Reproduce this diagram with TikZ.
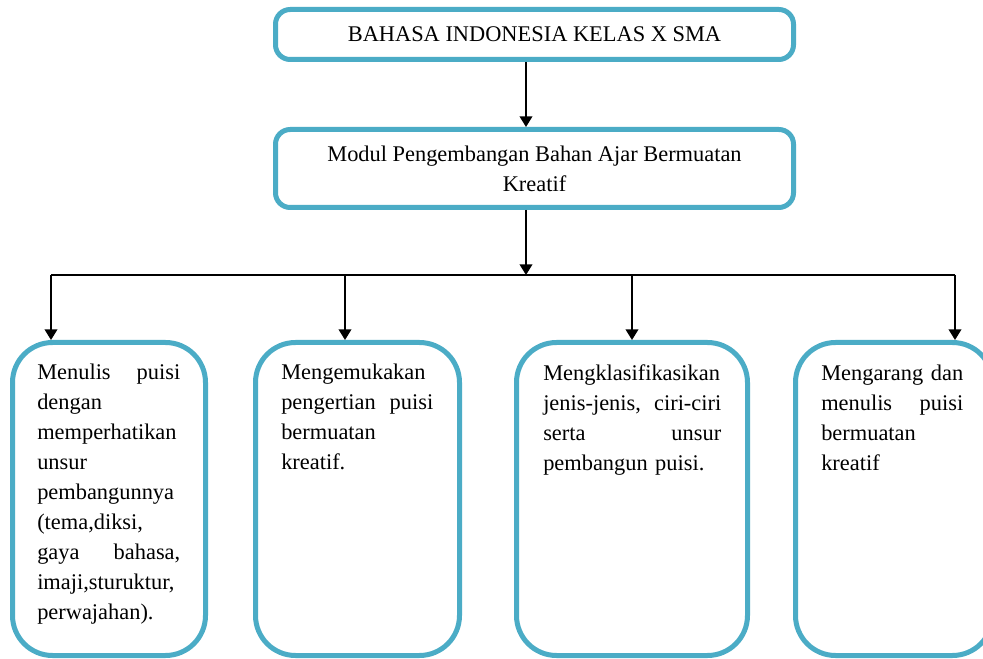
\documentclass[tikz,border=0pt]{standalone}
\usepackage{fontspec}
\setmainfont{Liberation Serif}
\usetikzlibrary{arrows.meta}
\definecolor{boxblue}{RGB}{75,172,198}
\begin{document}
\begin{tikzpicture}[x=0.75pt,y=-0.75pt,
  every node/.style={font=\fontsize{16.8}{22.5}\selectfont},
  topbox/.style={draw=boxblue,line width=3.75pt,rounded corners=11pt,fill=white,inner sep=0pt},
  leafbox/.style={draw=boxblue,line width=3.75pt,rounded corners=30pt,fill=white,inner sep=0pt,minimum height=234.75pt},
  leaftext/.style={anchor=base west,inner sep=0pt,align=left},
  arr/.style={line width=1.3pt,-{Triangle[width=9.5pt,length=8pt]}},
  plain/.style={line width=1.3pt}]
\useasboundingbox (0,0) rectangle (983,659);
\clip (0,0) rectangle (983,659);
\fill[white] (0,0) rectangle (983,659);
% boxes
\node[topbox,minimum width=388.5pt,minimum height=37.5pt] (top) at (534.5,34.5) {};
\node[topbox,minimum width=388.5pt,minimum height=58.5pt] (mod) at (534.5,168.5) {};
\node[leafbox,minimum width=144.75pt] (b1) at (109,499) {};
\node[leafbox,minimum width=153pt] (b2) at (357.5,499) {};
\node[leafbox,minimum width=173.25pt] (b3) at (632,499) {};
\node[leafbox,minimum width=147.75pt] (b4) at (894,499) {};
% texts
\node[anchor=base,inner sep=0pt] (ttop) at (534.5,42) {BAHASA INDONESIA KELAS X SMA};
\node[anchor=base,inner sep=0pt] (tmod1) at (534.5,162) {Modul Pengembangan Bahan Ajar Bermuatan};
\node[anchor=base,inner sep=0pt] (tmod2) at (534.5,192) {Kreatif};
\node[leaftext,text width=107.25pt] (t1) at (37,380) {Menulis\hfill puisi\\ dengan\\ memperhatikan\\ unsur\\ pembangunnya\\ (tema,diksi,\\ gaya\hfill bahasa,\\ imaji,sturuktur,\\ perwajahan).};
\node[leaftext,text width=114pt] (t2) at (281,380) {Mengemukakan\\ pengertian\hfill puisi\\ bermuatan\\ kreatif.};
\node[leaftext,text width=133.5pt] (t3) at (543,381) {Mengklasifikasikan\\ jenis-jenis,\hfill ciri-ciri\\ serta\hfill unsur\\ pembangun puisi.};
\node[leaftext,text width=106.5pt] (t4) at (821,381) {Mengarang\hfill dan\\ menulis\hfill puisi\\ bermuatan\\ kreatif};
% connectors
\coordinate (c0) at (526,275);
\coordinate (hl) at (51,275);
\coordinate (hr) at (955,275);
\coordinate (h2) at (345,275);
\coordinate (h3) at (632,275);
\draw[arr] (top.south -| c0) -- (mod.north -| c0);
\draw[arr] (mod.south -| c0) -- (c0);
\draw[plain] (hl) -- (hr);
\draw[arr] (hl) -- (b1.north -| hl);
\draw[arr] (h2) -- (b2.north -| h2);
\draw[arr] (h3) -- (b3.north -| h3);
\draw[arr] (hr) -- (b4.north -| hr);
\end{tikzpicture}
\end{document}
